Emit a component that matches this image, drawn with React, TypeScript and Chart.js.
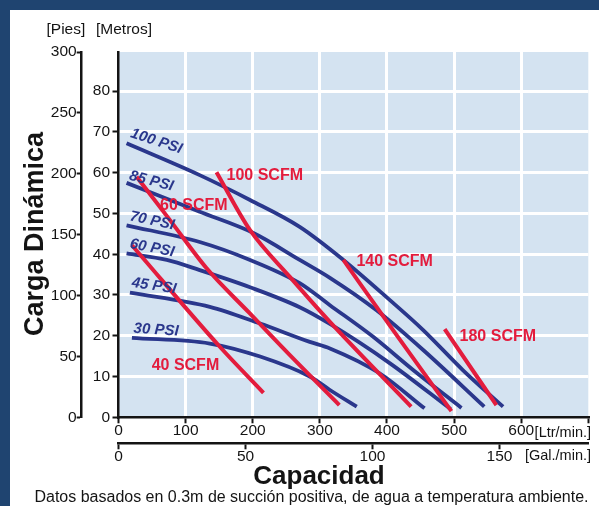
import React, { useEffect, useRef } from "react";
import { Chart, registerables } from "chart.js";

Chart.register(...registerables);

// ---------- Data (x: caudal en Ltr/min, y: carga en metros) ----------
const psi100X = [12, 121, 196, 270, 335, 404, 454, 513, 573];
const psi100Y = [67.2, 59.4, 53.3, 46.7, 38.6, 28.8, 21.4, 11.6, 2.6];
const psi85X = [12, 121, 201, 270, 315, 384, 454, 545];
const psi85Y = [57.5, 50.4, 45.2, 38.6, 34.2, 26.3, 16.5, 2.6];
const psi70X = [12, 121, 196, 270, 315, 379, 439, 511];
const psi70Y = [47.1, 43.0, 38.6, 32.9, 27.5, 19.8, 11.6, 2.3];
const psi60X = [12, 72, 121, 196, 270, 315, 404, 495];
const psi60Y = [40.2, 38.6, 36.1, 31.9, 27.0, 22.9, 13.3, 2.0];
const psi45X = [17, 136, 211, 285, 315, 389, 456];
const psi45Y = [30.6, 27.1, 23.0, 18.5, 16.9, 10.8, 2.2];
const psi30X = [20, 136, 211, 285, 315, 355];
const psi30Y = [19.5, 18.1, 14.9, 10.0, 6.7, 2.6];

const scfm40X = [20, 151, 216];
const scfm40Y = [42.2, 17.3, 6.0];
const scfm60X = [27, 77, 131, 195, 255, 329];
const scfm60Y = [59.0, 48.3, 36.6, 25.6, 15.3, 3.0];
const scfm100X = [146, 196, 255, 315, 436];
const scfm100Y = [60.1, 45.9, 34.5, 23.4, 2.6];
const scfm140X = [335, 412, 496];
const scfm140Y = [38.6, 20.7, 1.5];
const scfm180X = [486, 563];
const scfm180Y = [21.6, 3.0];

// ---------- Axis ticks ----------
const ltrTicks = [0, 100, 200, 300, 400, 500, 600, 700];
const galTicks = [0, 50, 100, 150];
const metrosTicks = [0, 10, 20, 30, 40, 50, 60, 70, 80];
const piesTicks = [0, 50, 100, 150, 200, 250, 300];
const LTR_MAX = 700;
const GAL_PER_LTR = 3.785;
const METROS_MAX = 89.6;
const PIES_MAX = 300;

// ---------- Curve labels ----------
const psiLabels = ["100 PSI", "85 PSI", "70 PSI", "60 PSI", "45 PSI", "30 PSI"];
const psiLabelX = [56.5, 49, 50, 50, 53, 56];
const psiLabelY = [67.7, 57.9, 48.2, 41.5, 32.2, 21.4];
const psiLabelAngle = [18, 14.5, 12, 11, 8.5, 3.5];

const scfmLabels = ["40 SCFM", "60 SCFM", "100 SCFM", "140 SCFM", "180 SCFM"];
const scfmLabelX = [49.4, 61.8, 161, 354.5, 508.2];
const scfmLabelY = [12.6, 52.0, 59.4, 38.1, 19.7];

// ---------- Style ----------
const FONT = "'Liberation Sans', Arial, Helvetica, sans-serif";
const BLUE = "#2a378c";
const RED = "#e31c3d";
const PLOT_BG = "#d4e3f1";
const FRAME = "#1f4470";
const INK = "#141414";

const toPts = (xs: number[], ys: number[]) => xs.map((x, i) => ({ x, y: ys[i] }));

const blueSeries = [
  toPts(psi100X, psi100Y),
  toPts(psi85X, psi85Y),
  toPts(psi70X, psi70Y),
  toPts(psi60X, psi60Y),
  toPts(psi45X, psi45Y),
  toPts(psi30X, psi30Y),
];
const redSeries = [
  toPts(scfm40X, scfm40Y),
  toPts(scfm60X, scfm60Y),
  toPts(scfm100X, scfm100Y),
  toPts(scfm140X, scfm140Y),
  toPts(scfm180X, scfm180Y),
];

const decorPlugin = {
  id: "decor",
  beforeDraw(chart: any) {
    const { ctx, chartArea, width, height } = chart;
    ctx.save();
    ctx.fillStyle = "#ffffff";
    ctx.fillRect(0, 0, width, height);
    ctx.fillStyle = FRAME;
    ctx.fillRect(0, 0, width, 10);
    ctx.fillRect(0, 0, 10, height);
    ctx.fillStyle = PLOT_BG;
    ctx.fillRect(chartArea.left, chartArea.top, chartArea.right - chartArea.left, chartArea.bottom - chartArea.top);
    ctx.restore();
  },
  afterDatasetsDraw(chart: any) {
    const { ctx } = chart;
    const xs = chart.scales.x;
    const ys = chart.scales.y;
    ctx.save();
    ctx.font = `italic bold 15px ${FONT}`;
    ctx.fillStyle = BLUE;
    ctx.textAlign = "center";
    ctx.textBaseline = "middle";
    psiLabels.forEach((t, i) => {
      const px = xs.getPixelForValue(psiLabelX[i]);
      const py = ys.getPixelForValue(psiLabelY[i]);
      ctx.save();
      ctx.translate(px, py);
      ctx.rotate((psiLabelAngle[i] * Math.PI) / 180);
      ctx.fillText(t, 0, 0);
      ctx.restore();
    });
    ctx.font = `bold 16px ${FONT}`;
    ctx.fillStyle = RED;
    ctx.textAlign = "left";
    scfmLabels.forEach((t, i) => {
      ctx.fillText(t, xs.getPixelForValue(scfmLabelX[i]), ys.getPixelForValue(scfmLabelY[i]));
    });
    ctx.restore();
  },
  afterDraw(chart: any) {
    const { ctx } = chart;
    ctx.save();
    ctx.fillStyle = INK;
    ctx.textBaseline = "middle";
    ctx.textAlign = "left";
    ctx.font = `15.5px ${FONT}`;
    ctx.fillText("[Pies]", 46.5, 30);
    ctx.fillText("[Metros]", 96, 30);
    ctx.textAlign = "right";
    ctx.font = `14.5px ${FONT}`;
    ctx.fillText("[Ltr/min.]", 591, 433);
    ctx.fillText("[Gal./min.]", 591, 455.5);
    ctx.textAlign = "center";
    ctx.textBaseline = "alphabetic";
    ctx.font = `bold 26px ${FONT}`;
    ctx.fillText("Capacidad", 319, 483.5);
    ctx.font = `16px ${FONT}`;
    ctx.fillText("Datos basados en 0.3m de succión positiva, de agua a temperatura ambiente.", 311.5, 502);
    ctx.save();
    ctx.translate(43.3, 234);
    ctx.rotate(-Math.PI / 2);
    ctx.font = `bold 27px ${FONT}`;
    ctx.fillText("Carga Dinámica", 0, 0);
    ctx.restore();
    ctx.restore();
  },
};

const tickFont = { family: FONT, size: 15.5, lineHeight: 1 };
const edgeTransparent = (edgeVals: number[]) => (c: any) =>
  c.tick && edgeVals.includes(c.tick.value) ? "rgba(0,0,0,0)" : "#ffffff";

export default function App() {
  const ref = useRef<HTMLCanvasElement>(null);

  useEffect(() => {
    const canvas = ref.current;
    if (!canvas) return;
    const datasets: any[] = [];
    redSeries.forEach((d, i) =>
      datasets.push({
        label: scfmLabels[i],
        data: d,
        borderColor: RED,
        borderWidth: 4,
        pointRadius: 0,
        cubicInterpolationMode: "monotone",
        fill: false,
        order: 0,
        xAxisID: "x",
        yAxisID: "y",
      })
    );
    blueSeries.forEach((d, i) =>
      datasets.push({
        label: psiLabels[i],
        data: d,
        borderColor: BLUE,
        borderWidth: 3.8,
        pointRadius: 0,
        cubicInterpolationMode: "monotone",
        fill: false,
        order: 1,
        xAxisID: "x",
        yAxisID: "y",
      })
    );

    const chart = new Chart(canvas, {
      type: "line",
      data: { datasets },
      plugins: [decorPlugin],
      options: {
        responsive: false,
        maintainAspectRatio: false,
        devicePixelRatio: 1,
        animation: false,
        parsing: true,
        layout: { padding: { left: 10, right: 10.7, top: 52, bottom: 42.7 } },
        plugins: { legend: { display: false }, tooltip: { enabled: false }, title: { display: false } },
        scales: {
          x: {
            type: "linear",
            position: "bottom",
            weight: 0,
            min: 0,
            max: LTR_MAX,
            afterBuildTicks: (s: any) => {
              s.ticks = ltrTicks.map((v) => ({ value: v }));
            },
            afterFit: (s: any) => {
              s.height = 26;
            },
            ticks: {
              autoSkip: false,
              maxRotation: 0,
              padding: 0,
              color: INK,
              font: tickFont,
              callback: (v: any) => (v === LTR_MAX ? "" : String(v)),
            },
            grid: {
              color: edgeTransparent([0, LTR_MAX]),
              lineWidth: 3,
              tickColor: INK,
              tickLength: 6,
              tickWidth: 2,
            },
            border: { display: true, color: INK, width: 2.5 },
          },
          x2: {
            type: "linear",
            position: "bottom",
            weight: 1,
            min: 0,
            max: LTR_MAX / GAL_PER_LTR,
            afterBuildTicks: (s: any) => {
              s.ticks = galTicks.map((v) => ({ value: v }));
            },
            afterFit: (s: any) => {
              s.height = 20;
            },
            ticks: { autoSkip: false, maxRotation: 0, padding: 0, color: INK, font: tickFont },
            grid: { drawOnChartArea: false, tickColor: INK, tickLength: 6, tickWidth: 2 },
            border: { display: true, color: INK, width: 2.5 },
          },
          y: {
            type: "linear",
            position: "left",
            weight: 0,
            min: 0,
            max: METROS_MAX,
            afterBuildTicks: (s: any) => {
              s.ticks = metrosTicks.map((v) => ({ value: v }));
            },
            afterFit: (s: any) => {
              s.width = 36.8;
            },
            ticks: { autoSkip: false, padding: 2.5, color: INK, font: tickFont },
            grid: {
              color: edgeTransparent([0]),
              lineWidth: 3,
              tickColor: INK,
              tickLength: 6,
              tickWidth: 2,
            },
            border: { display: true, color: INK, width: 2.5 },
          },
          y2: {
            type: "linear",
            position: "left",
            weight: 1,
            min: 0,
            max: PIES_MAX,
            afterBuildTicks: (s: any) => {
              s.ticks = piesTicks.map((v) => ({ value: v }));
            },
            afterFit: (s: any) => {
              s.width = 71.7;
            },
            ticks: { autoSkip: false, padding: 0, color: INK, font: tickFont },
            grid: { drawOnChartArea: false, tickColor: INK, tickLength: 5, tickWidth: 2 },
            border: { display: true, color: INK, width: 2.5 },
          },
        },
      } as any,
    });
    return () => chart.destroy();
  }, []);

  return (
    <div style={{ position: "absolute", left: 0, top: 0, width: 599, height: 506 }}>
      <canvas ref={ref} width={599} height={506} style={{ display: "block", width: 599, height: 506 }} />
    </div>
  );
}
